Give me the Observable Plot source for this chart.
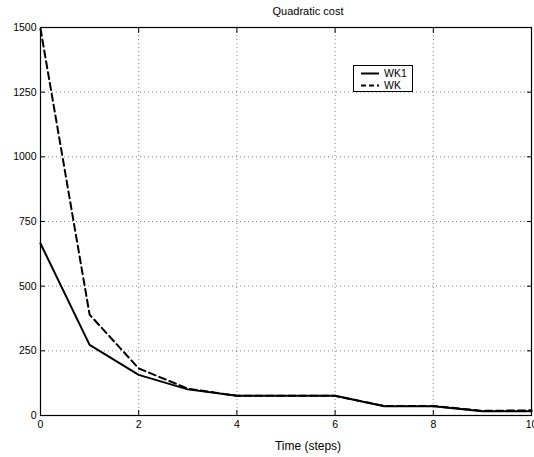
<!DOCTYPE html>
<html>
<head>
<meta charset="utf-8">
<script src="https://cdn.jsdelivr.net/npm/d3@7"></script>
<script src="https://cdn.jsdelivr.net/npm/@observablehq/plot@0.6"></script>
<style>
  body { margin: 0; background: white; font-family: "Liberation Sans", Arial, sans-serif; }
  #wrap { position: relative; width: 534px; height: 457px; overflow: hidden; }
  #title { position: absolute; left: 208px; width: 200px; top: 4px; text-align: center; font-size: 11px; line-height: 14px; color: #000; }
  #xlabel { position: absolute; left: 208px; width: 200px; top: 439px; text-align: center; font-size: 12px; line-height: 14px; color: #000; }
  #chart { position: absolute; left: 0; top: 20px; }
  #legend { position: absolute; left: 353px; top: 65px; width: 60px; height: 27px; border: 1px solid #000; background: #fff; box-sizing: border-box; font-size: 10.5px; }
  .item { position: absolute; left: 6px; height: 13px; line-height: 13px; }
  .item svg { position: absolute; left: 0; top: 0; }
  .item span { position: absolute; left: 24px; top: 0; }
</style>
</head>
<body>
<div id="wrap">
  <div id="title">Quadratic cost</div>
  <div id="chart"></div>
  <div id="xlabel"></div>
  <div id="legend"></div>
</div>
<script>
const steps = [0, 1, 2, 3, 4, 5, 6, 7, 8, 9, 10];
const wk1 = [665, 273, 157, 101, 76, 76, 76, 36, 36, 16, 16];
const wk = [1495, 390, 182, 104, 76, 76, 76, 37, 37, 18, 20];
const seriesNames = ["WK1", "WK"];
const xTicks = [0, 2, 4, 6, 8, 10];
const yTicks = [0, 250, 500, 750, 1000, 1250, 1500];
const xLabel = "Time (steps)";

document.getElementById("xlabel").textContent = xLabel;

const rows = [];
steps.forEach((t, i) => rows.push({t, v: wk1[i], s: seriesNames[0]}));
steps.forEach((t, i) => rows.push({t, v: wk[i], s: seriesNames[1]}));

const font = "Liberation Sans, Arial, sans-serif";
const fmt = d3.format("d");
const plot = Plot.plot({
  width: 534,
  height: 437,
  marginLeft: 40,
  marginRight: 3,
  marginTop: 7,
  marginBottom: 42,
  style: {fontFamily: font, fontSize: "10.5px", color: "#000", background: "white", overflow: "visible"},
  x: {domain: [0, 10], ticks: xTicks, label: null},
  y: {domain: [0, 1500], ticks: yTicks, label: null},
  marks: [
    Plot.gridX(xTicks, {stroke: "#555", strokeOpacity: 0.9, strokeWidth: 0.8, strokeDasharray: "1,3"}),
    Plot.gridY(yTicks, {stroke: "#555", strokeOpacity: 0.9, strokeWidth: 0.8, strokeDasharray: "1,3"}),
    Plot.axisX(xTicks, {anchor: "bottom", tickSize: -5, text: null, label: null, strokeWidth: 1}),
    Plot.axisX(xTicks, {anchor: "top", tickSize: -5, text: null, label: null, strokeWidth: 1}),
    Plot.axisY(yTicks, {anchor: "left", tickSize: -5, text: null, label: null, strokeWidth: 1}),
    Plot.axisY(yTicks, {anchor: "right", tickSize: -5, text: null, label: null, strokeWidth: 1}),
    Plot.axisX(xTicks, {anchor: "bottom", tickSize: 0, tickPadding: 5, label: null, tickFormat: fmt, fontSize: 10.5}),
    Plot.axisY(yTicks, {anchor: "left", tickSize: 0, tickPadding: 4, label: null, tickFormat: fmt, fontSize: 10.5}),
    Plot.frame({stroke: "#000", strokeWidth: 1.2}),
    Plot.line(rows.filter(d => d.s === seriesNames[0]), {x: "t", y: "v", stroke: "#000", strokeWidth: 2}),
    Plot.line(rows.filter(d => d.s === seriesNames[1]), {x: "t", y: "v", stroke: "#000", strokeWidth: 2, strokeDasharray: "7,4"})
  ]
});
document.getElementById("chart").appendChild(plot);

// legend
const leg = document.getElementById("legend");
[["", seriesNames[0]], ["5,3", seriesNames[1]]].forEach(([dash, name], i) => {
  const it = document.createElement("div");
  it.className = "item";
  it.style.top = (i === 0 ? 1 : 13) + "px";
  it.innerHTML = `<svg width="20" height="13"><line x1="1" x2="19" y1="6.5" y2="6.5" stroke="#000" stroke-width="2" ${dash ? `stroke-dasharray="${dash}"` : ""}/></svg><span>${name}</span>`;
  leg.appendChild(it);
});
</script>
</body>
</html>
